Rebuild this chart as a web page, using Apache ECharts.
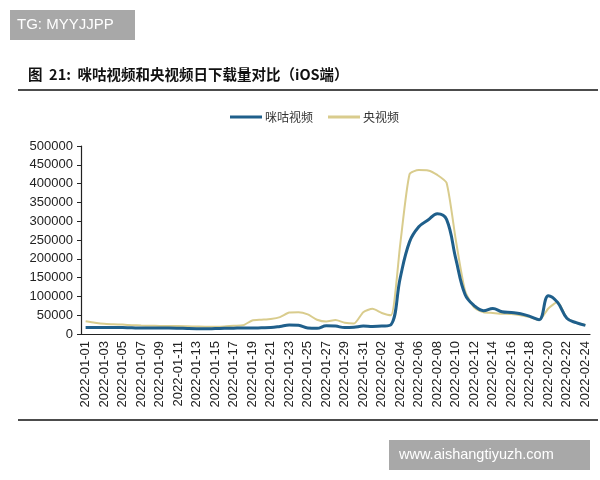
<!DOCTYPE html>
<html>
<head>
<meta charset="utf-8">
<script src="https://cdn.jsdelivr.net/npm/echarts@6/dist/echarts.min.js"></script>
<style>
  html, body { margin: 0; padding: 0; background: #fff; }
  #chart { width: 600px; height: 480px; }
</style>
</head>
<body>
<div id="chart"></div>
<script>
// 日期 2022-01-01 ~ 2022-02-24
var dates = [];
for (var d = 1; d <= 31; d++) dates.push('2022-01-' + (d < 10 ? '0' + d : d));
for (var d2 = 1; d2 <= 24; d2++) dates.push('2022-02-' + (d2 < 10 ? '0' + d2 : d2));

var seriesNames = ['咪咕视频', '央视频'];

// 咪咕视频 日下载量（iOS）
var miguData = [
  17000, 17000, 17500, 17500, 17000, 16500, 16000, 16000, 16000, 16000,
  15500, 14500, 14000, 14000, 14500, 15000, 15500, 16000, 16000, 16500,
  17000, 20000, 24000, 23000, 16000, 15000, 22000, 21000, 17000, 18000,
  21000, 20000, 21000, 25000, 150000, 245000, 285000, 303000, 320000, 305000,
  200000, 105000, 75000, 62000, 68000, 59000, 57000, 54000, 47000, 38000,
  102000, 84000, 42000, 30000, 23000
];

// 央视频 日下载量（iOS）
var cctvData = [
  34000, 30000, 27000, 26000, 25000, 23500, 22500, 22000, 21500, 21000,
  21000, 20500, 20000, 19500, 19500, 20000, 22000, 23000, 36000, 38000,
  40000, 45000, 57000, 58000, 52000, 38000, 33000, 37000, 30000, 28000,
  58000, 67000, 56000, 50000, 240000, 425000, 436000, 435000, 423000, 402000,
  250000, 115000, 70000, 58000, 56000, 54000, 53000, 50000, 45000, 37000,
  68000, 85000, 42000, 30000, 24000
];

var yTicks = [0, 50000, 100000, 150000, 200000, 250000, 300000, 350000, 400000, 450000, 500000];

var myChart = echarts.init(document.getElementById('chart'));

var option = {
  backgroundColor: '#fff',
  animation: false,
  textStyle: { fontFamily: 'Liberation Sans, Arial, sans-serif' },
  graphic: [
    // 左上角水印
    { type: 'rect', left: 10, top: 10, shape: { width: 125, height: 30 }, style: { fill: '#a8a8a8' } },
    { type: 'text', left: 17, top: 17, style: { text: 'TG: MYYJJPP', fill: '#fff', font: '15px Liberation Sans, Arial, sans-serif' } },
    // 标题
    { type: 'text', left: 28, top: 67, style: { text: '图  21:  咪咕视频和央视频日下载量对比（iOS端）', fill: '#111', font: 'bold 14.5px Noto Sans CJK SC, sans-serif' } },
    { type: 'line', shape: { x1: 18, y1: 90, x2: 598, y2: 90 }, style: { stroke: '#111', lineWidth: 1.5 } },
    { type: 'line', shape: { x1: 18, y1: 420, x2: 598, y2: 420 }, style: { stroke: '#111', lineWidth: 1.5 } },
    // 右下角水印
    { type: 'rect', left: 389, top: 440, shape: { width: 201, height: 30 }, style: { fill: '#a8a8a8' } },
    { type: 'text', left: 399, top: 447, style: { text: 'www.aishangtiyuzh.com', fill: '#fff', font: '14.5px Liberation Sans, Arial, sans-serif' } }
  ],
  legend: {
    top: 106,
    left: 225,
    icon: 'rect',
    itemWidth: 32,
    itemHeight: 3,
    itemGap: 15,
    textStyle: { fontSize: 12, color: '#333', padding: [0, 0, 0, -2], fontFamily: 'Noto Sans CJK SC, sans-serif' },
    data: seriesNames
  },
  grid: {
    left: 81,
    right: 10,
    top: 146,
    bottom: 146,
    containLabel: false
  },
  xAxis: {
    type: 'category',
    boundaryGap: true,
    data: dates,
    axisLine: { lineStyle: { color: '#222', width: 1.2 } },
    axisTick: { interval: 0, length: 4, lineStyle: { color: '#222' } },
    axisLabel: {
      interval: 1,
      rotate: 90,
      color: '#222',
      fontSize: 13,
      margin: 7
    }
  },
  yAxis: {
    type: 'value',
    min: yTicks[0],
    max: yTicks[yTicks.length - 1],
    interval: 50000,
    axisLine: { show: true, lineStyle: { color: '#222', width: 1.2 } },
    axisTick: { show: true, length: 4, lineStyle: { color: '#222' } },
    axisLabel: {
      color: '#222',
      fontSize: 13,
      margin: 8,
      formatter: function (v) { return String(v); }
    },
    splitLine: { show: false }
  },
  series: [
    {
      name: seriesNames[0],
      type: 'line',
      data: miguData,
      smooth: 0.4,
      showSymbol: false,
      z: 3,
      itemStyle: { color: '#1f5f8b' },
      lineStyle: { color: '#1f5f8b', width: 3 }
    },
    {
      name: seriesNames[1],
      type: 'line',
      data: cctvData,
      smooth: 0.2,
      showSymbol: false,
      z: 2,
      itemStyle: { color: '#d9cc8d' },
      lineStyle: { color: '#d9cc8d', width: 2 }
    }
  ]
};

myChart.setOption(option);
</script>
</body>
</html>
